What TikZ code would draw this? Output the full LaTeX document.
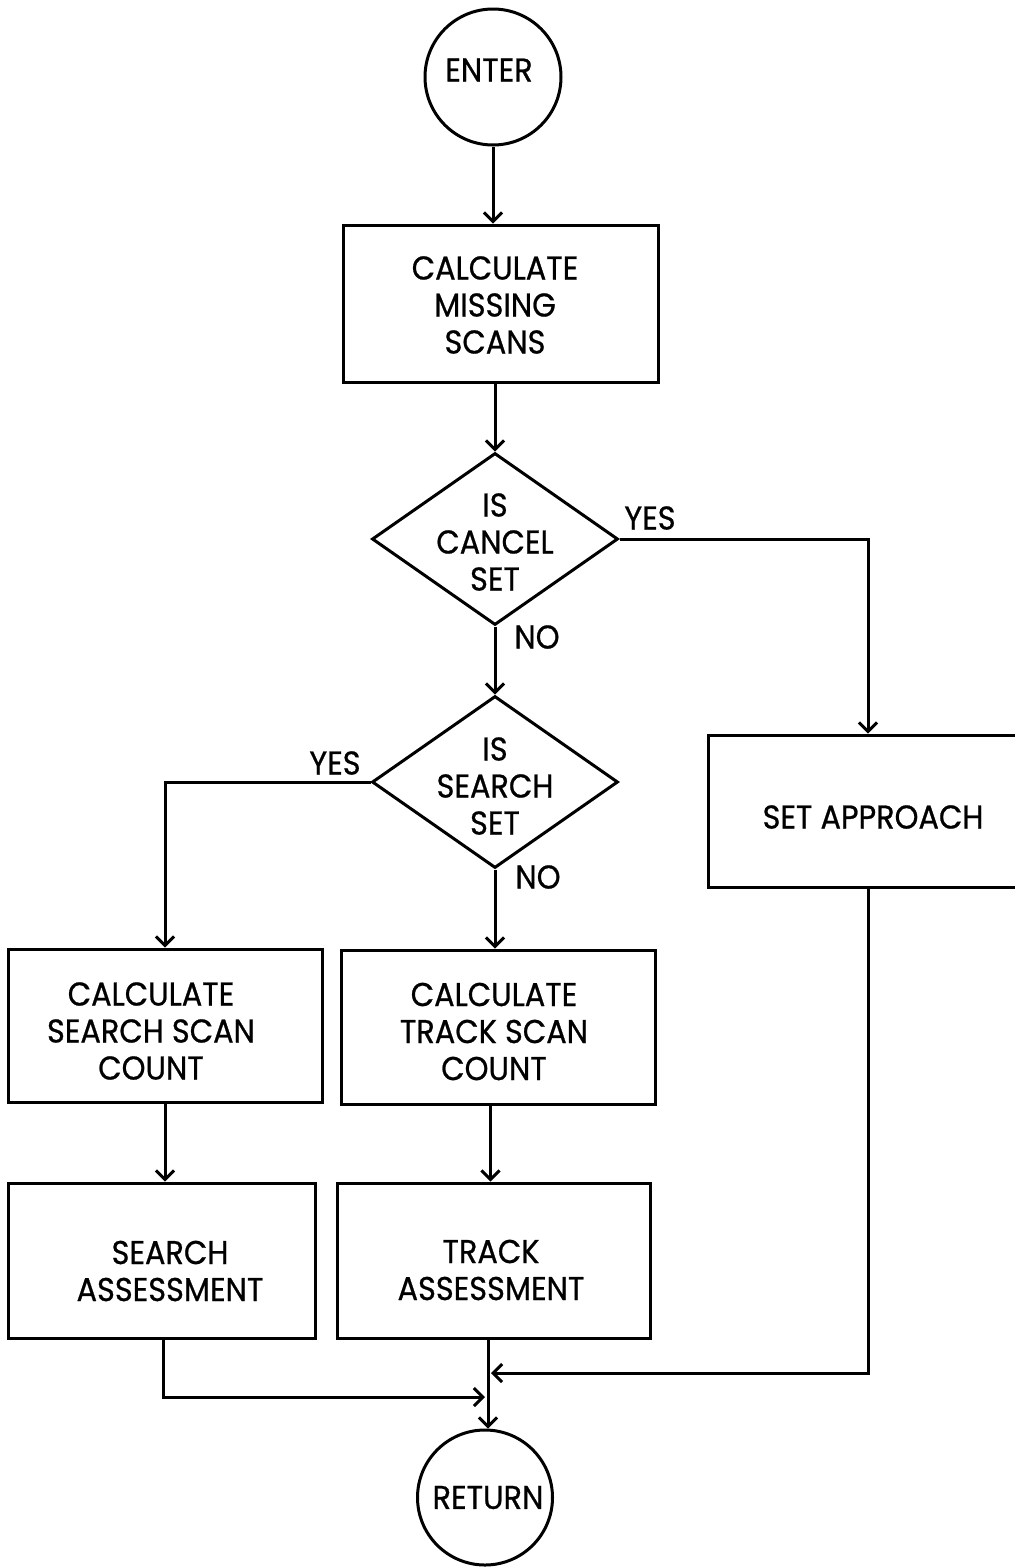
\documentclass[tikz,border=0pt]{standalone}
\usepackage{fontspec}
\setmainfont{Poppins}[FakeStretch=0.92,FakeBold=0.7]
\usetikzlibrary{shapes.geometric,arrows.meta}
\begin{document}
\begin{tikzpicture}[x=1pt,y=-1pt,
  line width=3pt,
  every node/.style={font=\fontsize{33}{37}\selectfont},
  term/.style={circle, draw, minimum size=#1, inner sep=0pt},
  stepbox/.style={rectangle, draw, inner sep=0pt},
  decision/.style={diamond, draw, minimum width=246pt, minimum height=172pt, inner sep=0pt},
  txt/.style={align=center, inner sep=0pt},
  tag/.style={inner sep=0pt},
  arr/.style={-{Straight Barb[length=9pt,width=18pt]}},
]
\useasboundingbox (0,0) rectangle (1015,1567);
\clip (0,0) rectangle (1015,1567);

% terminals
\node[term=136pt, label={[txt,xshift=-4pt,yshift=7pt]center:ENTER}] (enter) at (493,77) {};
\node[term=135pt, label={[txt,xshift=3pt]center:RETURN}] (ret) at (485,1497.5) {};

% process boxes
\node[stepbox, minimum width=315pt, minimum height=157pt,
      label={[txt,xshift=-5.5pt,yshift=-1.5pt]center:{CALCULATE\\MISSING\\SCANS}}] (b1) at (500.5,303.5) {};
\node[stepbox, minimum width=320pt, minimum height=152pt,
      label={[txt,xshift=5pt,yshift=-6pt]center:{SET APPROACH}}] (ap) at (868,811) {};
\node[stepbox, minimum width=314pt, minimum height=153pt,
      label={[txt,xshift=-14pt,yshift=-5.5pt]center:{CALCULATE\\SEARCH SCAN\\COUNT}}] (sc) at (165,1025.5) {};
\node[stepbox, minimum width=314pt, minimum height=154pt,
      label={[txt,xshift=-4pt,yshift=-4.5pt]center:{CALCULATE\\TRACK SCAN\\COUNT}}] (tc) at (498,1027) {};
\node[stepbox, minimum width=307pt, minimum height=155pt,
      label={[txt,xshift=8.5pt,yshift=-10.5pt]center:{SEARCH\\ASSESSMENT}}] (sa) at (161.5,1260.5) {};
\node[stepbox, minimum width=313pt, minimum height=155pt,
      label={[txt,xshift=-2.5pt,yshift=-9.5pt]center:{TRACK\\ASSESSMENT}}] (ta) at (493.5,1260.5) {};

% decisions
\node[decision, label={[txt,yshift=-3pt]center:{IS\\CANCEL\\SET}}] (d1) at (495,539) {};
\node[decision, label={[txt,yshift=-4pt]center:{IS\\SEARCH\\SET}}] (d2) at (495,782) {};

% branch labels
\node[tag] (y1) at (650,518) {YES};
\node[tag] (n1) at (537,637) {NO};
\node[tag] (y2) at (335,763) {YES};
\node[tag] (n2) at (538,877) {NO};

% junctions on the return line
\coordinate (j1) at (488,1397);
\coordinate (j2) at (488,1373);

% connectors
\draw[arr] (enter.south) -- (enter.south |- b1.north);
\draw[arr] (b1.south -| d1.north) -- (d1.north);
\draw[arr] (d1.east) -| (ap.north);
\draw[arr] (d1.south) -- (d2.north);
\draw[arr] (d2.west) -| (sc.north);
\draw[arr] (d2.south) -- (d2.south |- tc.north);
\draw[arr] (sc.south) -- (sc.south |- sa.north);
\draw[arr] ([xshift=-3pt]ta.north |- tc.south) -- ([xshift=-3pt]ta.north);
\draw[arr] (ta.south -| j1) -- (ret.north -| j1);
\draw[arr] ([xshift=1.5pt]sa.south) |- ([xshift=-3pt]j1);
\draw[arr] (ap.south) |- ([xshift=3pt]j2);
\end{tikzpicture}
\end{document}
